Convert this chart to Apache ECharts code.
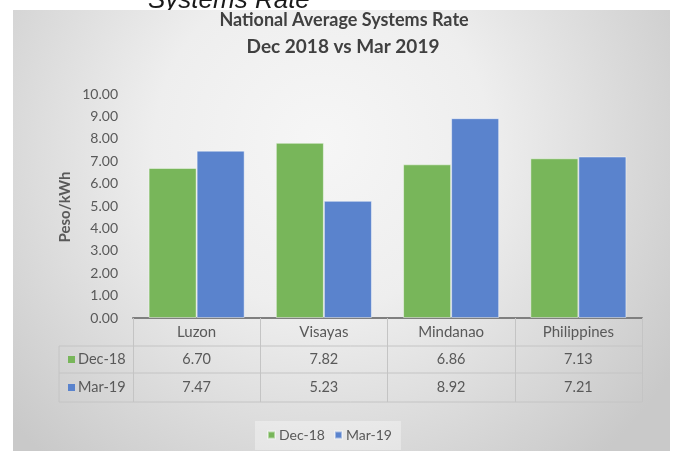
<!DOCTYPE html>
<html>
<head>
<meta charset="utf-8">
<script src="https://cdn.jsdelivr.net/npm/echarts@6/dist/echarts.min.js"></script>
<style>
  html, body { margin: 0; padding: 0; background: #ffffff; }
  #chart { width: 674px; height: 451px; }
</style>
</head>
<body>
<div id="chart"></div>
<script>
// Average systems rate per grid, in Peso/kWh
const regions = ['Luzon', 'Visayas', 'Mindanao', 'Philippines'];
const seriesNames = ['Dec-18', 'Mar-19'];
const dec18 = [6.70, 7.82, 6.86, 7.13];
const mar19 = [7.47, 5.23, 8.92, 7.21];
const titleLines = ['National Average Systems Rate', 'Dec 2018 vs Mar 2019'];
const yAxisTitle = 'Peso/kWh';
const headerText = 'Systems Rate';

const colors = ['#78b65a', '#5a83cd'];
const textColor = '#595959';
const FONT = 'Lato, "Open Sans", sans-serif';

// layout
const GRID = { left: 133, right: 32, top: 94, bottom: 133 };
const W = 674, H = 451;
const axisY = H - GRID.bottom;        // y of 0.00 baseline
const tableLeft = 59;
const tableRight = W - GRID.right;
const rowLines = [346, 373, 402];
const rowCenters = [359.5, 387.5];

const chart = echarts.init(document.getElementById('chart'), null, { renderer: 'canvas' });

const seriesData = [dec18, mar19];

chart.setOption({
  animation: false,
  color: colors,
  grid: { left: GRID.left, right: GRID.right, top: GRID.top, bottom: GRID.bottom },
  xAxis: {
    type: 'category',
    data: regions,
    axisLine: { lineStyle: { color: '#7f7f7f', width: 2 } },
    axisTick: { show: true, length: rowLines[2] - axisY, lineStyle: { color: '#c4c4c4', width: 1 } },
    axisLabel: { color: textColor, fontSize: 15, fontFamily: FONT, margin: 7 },
    splitLine: { show: false }
  },
  yAxis: {
    type: 'value',
    min: 0,
    max: 10,
    interval: 1,
    axisLine: { show: false },
    axisTick: { show: false },
    splitLine: { show: false },
    axisLabel: {
      color: textColor, fontSize: 14, fontFamily: FONT, margin: 15,
      formatter: v => v.toFixed(2)
    }
  },
  legend: {
    data: seriesNames,
    left: 255,
    top: 421,
    itemWidth: 7,
    itemHeight: 7,
    itemGap: 9,
    icon: 'rect',
    padding: [7, 9, 8, 12],
    backgroundColor: 'rgba(255,255,255,0.35)',
    textStyle: { color: textColor, fontSize: 14, fontFamily: FONT, padding: [0, 0, 0, -1] }
  },
  series: seriesNames.map((name, i) => ({
    name: name,
    type: 'bar',
    data: seriesData[i],
    barGap: '0%',
    barCategoryGap: '24.5%',
    itemStyle: { color: colors[i], borderColor: 'rgba(255,255,255,0.45)', borderWidth: 1 }
  }))
});

// Frame, titles and the data table under the axis
const graphics = [];

graphics.push({
  type: 'text', z: -2, silent: true,
  style: {
    x: 148, y: 14, text: headerText, fill: '#1a1a1a',
    font: 'italic 26px "Liberation Sans", Arial, sans-serif',
    textAlign: 'left', textVerticalAlign: 'bottom'
  }
});

graphics.push({
  type: 'rect', z: -1, silent: true,
  shape: { x: 13, y: 10, width: 657, height: 441 },
  style: {
    fill: {
      type: 'radial', x: 0.47, y: 0.3, r: 0.95,
      colorStops: [
        { offset: 0, color: '#f6f6f6' },
        { offset: 0.4, color: '#eeeeee' },
        { offset: 1, color: '#c9c9c9' }
      ]
    }
  }
});

graphics.push({
  type: 'text', z: 5, silent: true,
  style: {
    x: 344, y: 20, text: titleLines[0], fill: '#404040',
    font: 'bold 18px ' + FONT, textAlign: 'center', textVerticalAlign: 'middle'
  }
});
graphics.push({
  type: 'text', z: 5, silent: true,
  style: {
    x: 343, y: 47, text: titleLines[1], fill: '#404040',
    font: 'bold 19px ' + FONT, textAlign: 'center', textVerticalAlign: 'middle'
  }
});

graphics.push({
  type: 'text', z: 5, silent: true, x: 65, y: 207, rotation: Math.PI / 2,
  style: {
    x: 0, y: 0, text: yAxisTitle, fill: textColor,
    font: 'bold 15px ' + FONT, textAlign: 'center', textVerticalAlign: 'middle'
  }
});

// table row separators and left border
rowLines.forEach(y => {
  graphics.push({
    type: 'line', z: 5, silent: true,
    shape: { x1: tableLeft, y1: y, x2: tableRight, y2: y },
    style: { stroke: '#c4c4c4', lineWidth: 1 }
  });
});
graphics.push({
  type: 'line', z: 5, silent: true,
  shape: { x1: tableLeft, y1: rowLines[0], x2: tableLeft, y2: rowLines[2] },
  style: { stroke: '#c4c4c4', lineWidth: 1 }
});

// row headers with legend keys
seriesNames.forEach((name, i) => {
  graphics.push({
    type: 'rect', z: 5, silent: true,
    shape: { x: 68, y: rowCenters[i] - 3.5, width: 7, height: 7 },
    style: { fill: colors[i] }
  });
  graphics.push({
    type: 'text', z: 5, silent: true,
    style: {
      x: 78, y: rowCenters[i], text: name, fill: textColor,
      font: '14.5px ' + FONT, textAlign: 'left', textVerticalAlign: 'middle'
    }
  });
});

// value cells, placed on the category axis
seriesData.forEach((vals, i) => {
  vals.forEach((v, j) => {
    const x = chart.convertToPixel({ xAxisIndex: 0 }, regions[j]);
    graphics.push({
      type: 'text', z: 5, silent: true,
      style: {
        x: x, y: rowCenters[i], text: v.toFixed(2), fill: textColor,
        font: '14.5px ' + FONT, textAlign: 'center', textVerticalAlign: 'middle'
      }
    });
  });
});

chart.setOption({ graphic: { elements: graphics } });
</script>
</body>
</html>
